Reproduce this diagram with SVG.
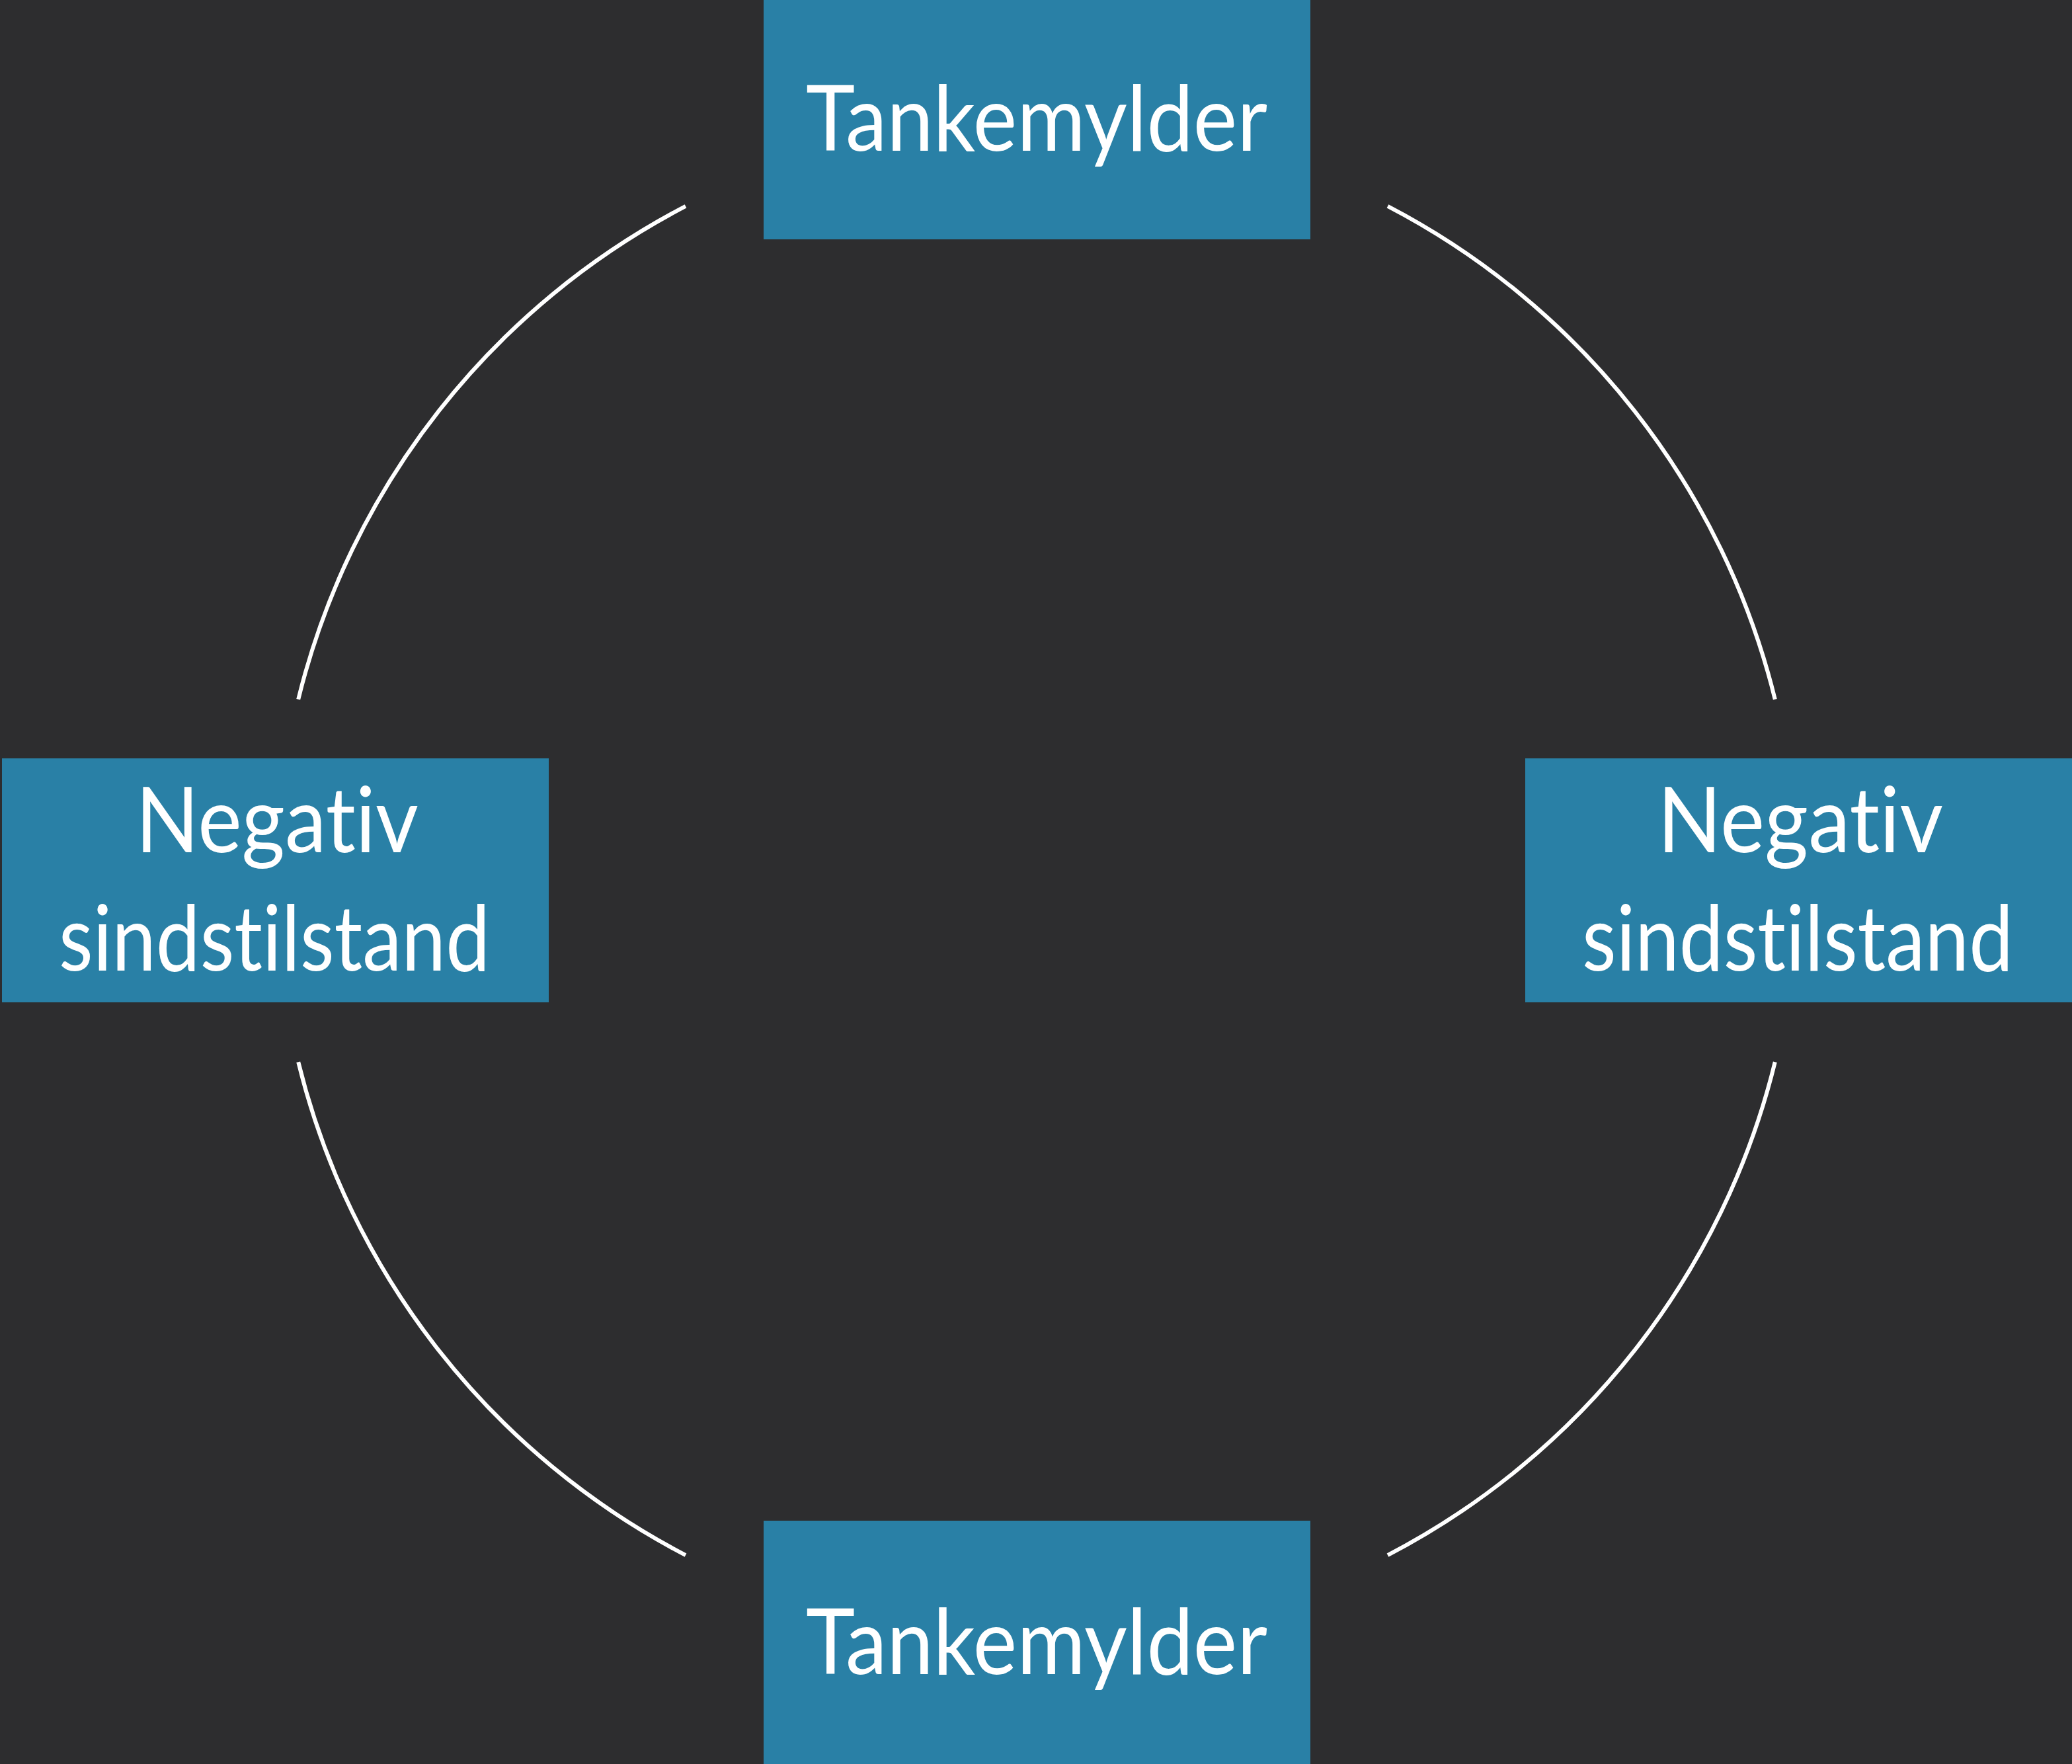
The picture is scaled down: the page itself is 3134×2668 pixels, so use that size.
<svg xmlns="http://www.w3.org/2000/svg" width="3134" height="2668" viewBox="0 0 3134 2668">
  <style>
    .bg { fill: #2d2d2f; }
    .box { fill: #2980a6; }
    .label { fill: #ffffff; font-family: Lato, "Noto Sans", "Liberation Sans", sans-serif; font-size: 138px; text-anchor: middle; font-variant-ligatures: none; }
    .arc { fill: none; stroke: #ffffff; stroke-width: 6; }
  </style>
  <rect class="bg" x="0" y="0" width="3134" height="2668"/>

  <!-- cycle arcs around centre (1568,1332), r = 1150 -->
  <g id="connectors">
    <path class="arc" d="M 1037 311.9 A 1150 1150 0 0 0 451.2 1057.7"/>
    <path class="arc" d="M 2099 311.9 A 1150 1150 0 0 1 2684.8 1057.7"/>
    <path class="arc" d="M 451.2 1606.3 A 1150 1150 0 0 0 1037 2352.1"/>
    <path class="arc" d="M 2684.8 1606.3 A 1150 1150 0 0 1 2099 2352.1"/>
  </g>

  <g id="node-top">
    <rect class="box" x="1155" y="0" width="827" height="362"/>
    <text class="label" x="1568" y="228" textLength="698" lengthAdjust="spacingAndGlyphs">Tankemylder</text>
  </g>

  <g id="node-left">
    <rect class="box" x="3" y="1147" width="827" height="369"/>
    <text class="label" x="419" y="1289" textLength="428" lengthAdjust="spacingAndGlyphs">Negativ</text>
    <text class="label" x="415" y="1468" textLength="652" lengthAdjust="spacingAndGlyphs">sindstilstand</text>
  </g>

  <g id="node-right">
    <rect class="box" x="2307" y="1147" width="827" height="369"/>
    <text class="label" x="2723" y="1289" textLength="432" lengthAdjust="spacingAndGlyphs">Negativ</text>
    <text class="label" x="2719" y="1468" textLength="652" lengthAdjust="spacingAndGlyphs">sindstilstand</text>
  </g>

  <g id="node-bottom">
    <rect class="box" x="1155" y="2300" width="827" height="368"/>
    <text class="label" x="1568" y="2532" textLength="698" lengthAdjust="spacingAndGlyphs">Tankemylder</text>
  </g>
</svg>
